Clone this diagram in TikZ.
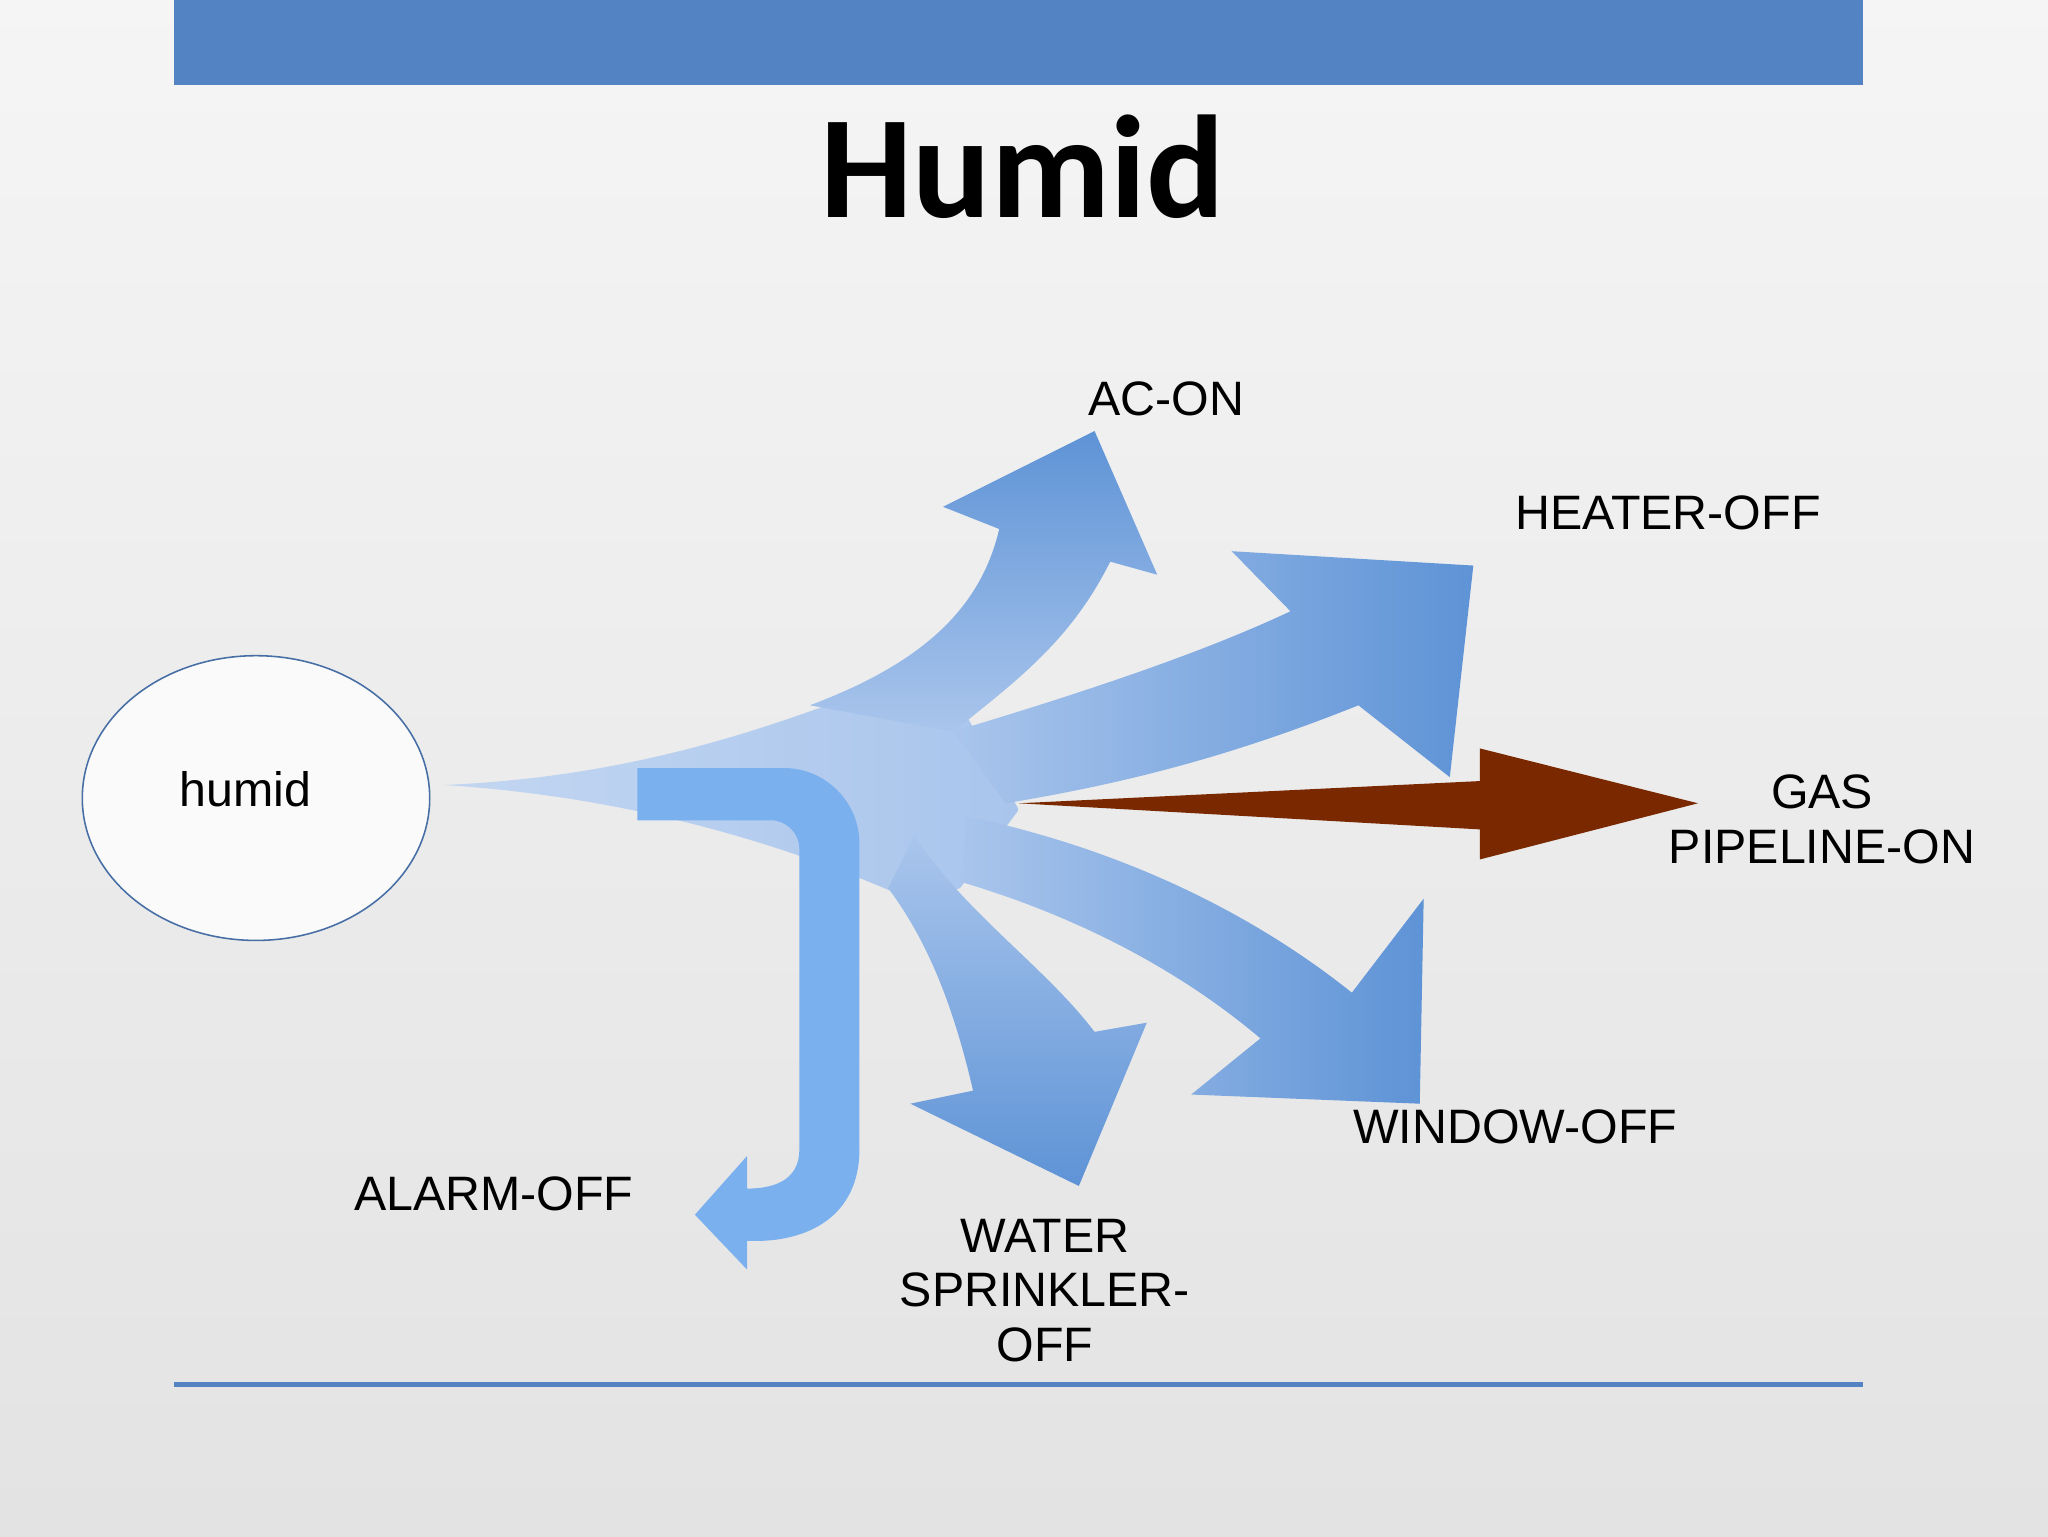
\documentclass[tikz,border=0pt]{standalone}
\usepackage{fontspec}
\usetikzlibrary{shapes.geometric}
\setmainfont{Liberation Sans}
\newfontfamily\titlefont{Carlito}
\definecolor{barblue}{HTML}{5383C3}
\definecolor{arrL}{HTML}{A9C5EC}
\definecolor{arrD}{HTML}{5E93D6}
\definecolor{alarmc}{HTML}{7AB0EE}
\definecolor{gasc}{HTML}{7A2800}
\tikzset{lbl/.style={font=\fontsize{37}{42}\selectfont,align=center,inner sep=0pt},
 arrowfill/.style={left color=arrL,right color=arrD}}
\begin{document}
\begin{tikzpicture}[x=1pt,y=-1pt]
\shade[top color=white!92!gray,bottom color=gray!22] (0,0) rectangle (1568,1176);
\useasboundingbox (0,0) rectangle (1568,1176);
\fill[barblue] (133,0) rectangle (1426,65);
\node[inner sep=0pt,font=\titlefont\bfseries\fontsize{112}{120}\selectfont] (title) at (783,128) {Humid};
\draw[barblue,line width=3.5] (133,1060) -- (1426,1060);
\node[draw=barblue!85!black,fill=white!96!gray,ellipse,minimum width=266,minimum height=218,inner sep=0,line width=1.2] (e) at (196,611) {};
\node[lbl] (h) at (188,604) {humid};
% fan body
\shade[left color=arrL!70!white,right color=arrL] (340,601) .. controls (480,595) and (580,560) .. (660,530) -- (740,548) -- (780,620) -- (735,680) -- (700,690) .. controls (600,645) and (480,610) .. (340,601) -- cycle;
% AC-ON
\shade[bottom color=arrL,top color=arrD] (620,540) .. controls (700,510) and (750,470) .. (765,405) -- (722,388) -- (838,330) -- (886,440) -- (850,430) .. controls (820,490) and (780,520) .. (730,560) -- cycle;
% HEATER
\shade[arrowfill] (730,560) .. controls (830,530) and (920,500) .. (988,468) -- (943,422) -- (1128,433) -- (1110,595) -- (1040,540) .. controls (940,580) and (860,600) .. (770,615) -- cycle;
% WINDOW
\shade[arrowfill] (740,625) .. controls (860,650) and (960,700) .. (1035,760) -- (1090,688) -- (1087,845) -- (912,838) -- (965,795) .. controls (900,740) and (820,700) .. (735,675) -- cycle;
% WATER
\shade[top color=arrL,bottom color=arrD] (700,640) .. controls (740,700) and (800,740) .. (838,790) -- (878,783) -- (826,908) -- (697,845) -- (745,835) .. controls (730,770) and (710,720) .. (680,680) -- cycle;
% GAS
\fill[gasc] (780,615) -- (1133,598) -- (1133,573) -- (1300,615) -- (1133,658) -- (1133,635) -- cycle;
% ALARM
\fill[alarmc] (488,588) -- (600,588) arc[start angle=-90,end angle=0,radius=58] -- (658,880) .. controls (658,930) and (620,952) .. (572,950) -- (572,972) -- (532,930) -- (572,885) -- (572,910) .. controls (598,910) and (612,900) .. (612,880) -- (612,650) arc[start angle=0,end angle=-90,radius=22] -- (488,628) -- cycle;
\node[lbl] (ac) at (893,305) {AC-ON};
\node[lbl] (heat) at (1277,393) {HEATER-OFF};
\node[lbl] (gas) at (1395,627) {GAS\\PIPELINE-ON};
\node[lbl] (win) at (1160,863) {WINDOW-OFF};
\node[lbl] (alarm) at (378,914) {ALARM-OFF};
\node[lbl] (water) at (800,988) {WATER\\SPRINKLER-\\OFF};
\end{tikzpicture}
\end{document}
